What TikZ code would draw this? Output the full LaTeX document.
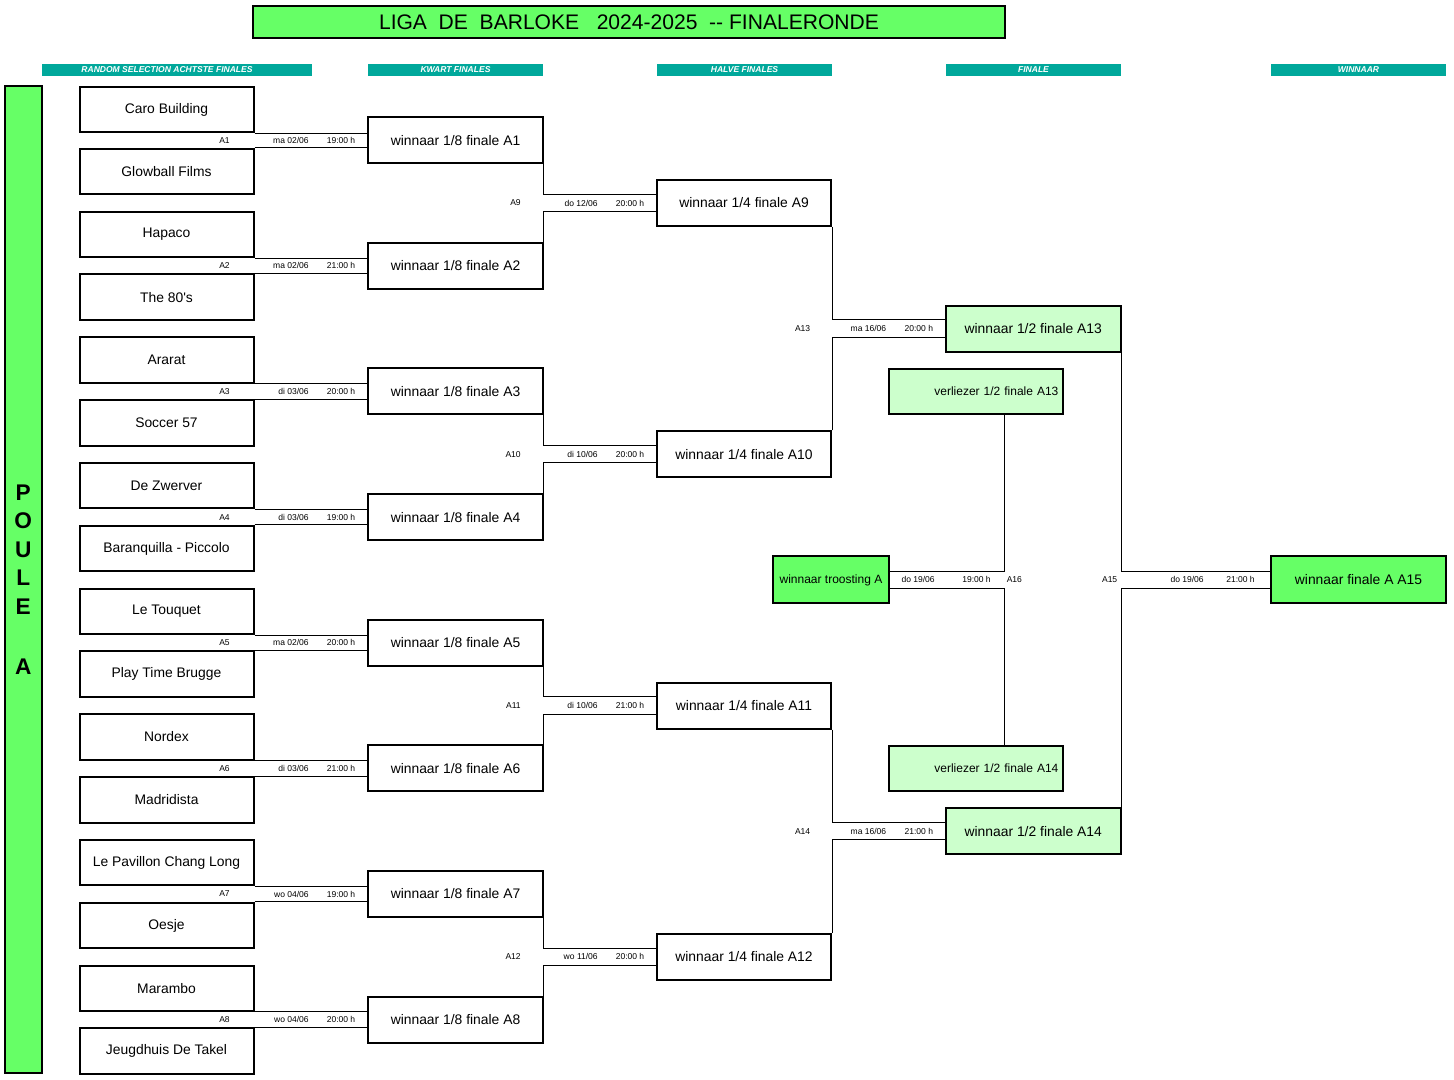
\documentclass[tikz,border=0pt]{standalone}
\usepackage{fontspec}
\setmainfont{Liberation Sans}
\usetikzlibrary{positioning, calc}
\definecolor{poulegreen}{RGB}{102,255,102}
\definecolor{palegreen}{RGB}{204,255,204}
\definecolor{headerteal}{RGB}{0,168,155}

\begin{document}
\begin{tikzpicture}[
        x=0.75pt, y=-0.75pt,
        teambox/.style={rectangle, draw, line width=1.5pt, minimum width=130.5pt, minimum height=34.1pt, inner sep=0pt, align=center, font=\fontsize{10.4}{12}\selectfont},
        winbox/.style={teambox, minimum width=131pt, minimum height=34.5pt},
        semibox/.style={winbox, fill=palegreen},
        loserbox/.style={teambox, fill=palegreen, text width=124pt, inner xsep=3pt, align=right, font=\fontsize{9}{11}\selectfont},
        troostbox/.style={teambox, fill=poulegreen, minimum width=87pt, minimum height=35.25pt, font=\fontsize{9}{11}\selectfont},
        finalbox/.style={winbox, fill=poulegreen, minimum height=35.25pt},
        titlebox/.style={rectangle, draw, line width=1.5pt, fill=poulegreen, minimum width=564pt, minimum height=24pt, inner sep=0pt, font=\fontsize{15.8}{18}\selectfont},
        poulebar/.style={rectangle, draw, line width=1.5pt, fill=poulegreen, minimum width=28.1pt, minimum height=740.25pt, inner sep=0pt, align=center, font=\fontsize{17}{21.4}\bfseries},
        headbar/.style={rectangle, fill=headerteal, minimum height=8.8pt, inner sep=0pt, text=white, font=\fontsize{6.4}{7}\bfseries\itshape},
        lbl/.style={inner sep=0pt, font=\fontsize{6.4}{7}\selectfont},
        link/.style={line width=0.75pt}
    ]
        \useasboundingbox (0,0) rectangle (1454,1079);

        \node[titlebox] (title) at (629,22) {LIGA\ \ DE\ \ BARLOKE\ \ \ 2024-2025\ \ -{}- FINALERONDE};

        \node[headbar, minimum width=202.5pt] (hdrachtste) at (177,69.8) {\hspace*{-15pt}RANDOM SELECTION ACHTSTE FINALES};
        \node[headbar, minimum width=131.25pt] (hdrkwart) at (455.5,69.8) {KWART FINALES};
        \node[headbar, minimum width=131.25pt] (hdrhalve) at (744.5,69.8) {HALVE FINALES};
        \node[headbar, minimum width=131.25pt] (hdrfinale) at (1033.5,69.8) {FINALE};
        \node[headbar, minimum width=131.25pt] (hdrwinnaar) at (1358.5,69.8) {WINNAAR};

        \node[poulebar] (poule) at (23.25,579.5) {P\\O\\U\\L\\E\\[23.6pt]A};

        \node[teambox] (caro) at (166.5,109.5) {Caro Building};
        \node[teambox] (glowball) at (166.5,171.57) {Glowball Films};
        \node[teambox] (hapaco) at (166.5,234.39) {Hapaco};
        \node[teambox] (eighties) at (166.5,297.21) {The 80\textquotesingle s};
        \node[teambox] (ararat) at (166.5,360.03) {Ararat};
        \node[teambox] (soccer) at (166.5,422.85) {Soccer 57};
        \node[teambox] (zwerver) at (166.5,485.67) {De Zwerver};
        \node[teambox] (baranquilla) at (166.5,548.49) {Baranquilla - Piccolo};
        \node[teambox] (touquet) at (166.5,611.31) {Le Touquet};
        \node[teambox] (playtime) at (166.5,674.13) {Play Time Brugge};
        \node[teambox] (nordex) at (166.5,736.95) {Nordex};
        \node[teambox] (madridista) at (166.5,799.77) {Madridista};
        \node[teambox] (pavillon) at (166.5,862.59) {Le Pavillon Chang Long};
        \node[teambox] (oesje) at (166.5,925.41) {Oesje};
        \node[teambox] (marambo) at (166.5,988.23) {Marambo};
        \node[teambox] (jeugdhuis) at (166.5,1051.05) {Jeugdhuis De Takel};

        \node[winbox] (wa1) at (455.5,140.16) {winnaar 1/8 finale A1};
        \node[winbox] (wa2) at (455.5,265.8) {winnaar 1/8 finale A2};
        \node[winbox] (wa3) at (455.5,391.44) {winnaar 1/8 finale A3};
        \node[winbox] (wa4) at (455.5,517.08) {winnaar 1/8 finale A4};
        \node[winbox] (wa5) at (455.5,642.72) {winnaar 1/8 finale A5};
        \node[winbox] (wa6) at (455.5,768.36) {winnaar 1/8 finale A6};
        \node[winbox] (wa7) at (455.5,894.0) {winnaar 1/8 finale A7};
        \node[winbox] (wa8) at (455.5,1019.64) {winnaar 1/8 finale A8};

        \node[winbox] (wa9) at (744,202.98) {winnaar 1/4 finale A9};
        \node[winbox] (wa10) at (744,454.26) {winnaar 1/4 finale A10};
        \node[winbox] (wa11) at (744,705.54) {winnaar 1/4 finale A11};
        \node[winbox] (wa12) at (744,956.82) {winnaar 1/4 finale A12};

        \node[semibox] (wa13) at (1033.25,328.62) {winnaar 1/2 finale A13};
        \node[semibox] (wa14) at (1033.25,831.18) {winnaar 1/2 finale A14};
        \node[loserbox] (la13) at (975.75,391.44) {verliezer 1/2 finale A13};
        \node[loserbox] (la14) at (975.75,768.36) {verliezer 1/2 finale A14};

        \node[troostbox] (wa16) at (831,579.9) {winnaar troosting A};
        \node[finalbox] (wa15) at (1358.5,579.9) {winnaar finale A A15};

        \draw[link] (caro.south east) -- (caro.south east -| wa1.west);
        \draw[link] (glowball.north east) -- (glowball.north east -| wa1.west);
        \draw[link] (hapaco.south east) -- (hapaco.south east -| wa2.west);
        \draw[link] (eighties.north east) -- (eighties.north east -| wa2.west);
        \draw[link] (ararat.south east) -- (ararat.south east -| wa3.west);
        \draw[link] (soccer.north east) -- (soccer.north east -| wa3.west);
        \draw[link] (zwerver.south east) -- (zwerver.south east -| wa4.west);
        \draw[link] (baranquilla.north east) -- (baranquilla.north east -| wa4.west);
        \draw[link] (touquet.south east) -- (touquet.south east -| wa5.west);
        \draw[link] (playtime.north east) -- (playtime.north east -| wa5.west);
        \draw[link] (nordex.south east) -- (nordex.south east -| wa6.west);
        \draw[link] (madridista.north east) -- (madridista.north east -| wa6.west);
        \draw[link] (pavillon.south east) -- (pavillon.south east -| wa7.west);
        \draw[link] (oesje.north east) -- (oesje.north east -| wa7.west);
        \draw[link] (marambo.south east) -- (marambo.south east -| wa8.west);
        \draw[link] (jeugdhuis.north east) -- (jeugdhuis.north east -| wa8.west);

        \draw[link] (wa1.south east) |- ([yshift=6.5pt]wa9.west);
        \draw[link] (wa2.north east) |- ([yshift=-6.5pt]wa9.west);
        \draw[link] (wa3.south east) |- ([yshift=6.5pt]wa10.west);
        \draw[link] (wa4.north east) |- ([yshift=-6.5pt]wa10.west);
        \draw[link] (wa5.south east) |- ([yshift=6.5pt]wa11.west);
        \draw[link] (wa6.north east) |- ([yshift=-6.5pt]wa11.west);
        \draw[link] (wa7.south east) |- ([yshift=6.5pt]wa12.west);
        \draw[link] (wa8.north east) |- ([yshift=-6.5pt]wa12.west);

        \draw[link] (wa9.south east) |- ([yshift=6.5pt]wa13.west);
        \draw[link] (wa10.north east) |- ([yshift=-6.5pt]wa13.west);
        \draw[link] (wa11.south east) |- ([yshift=6.5pt]wa14.west);
        \draw[link] (wa12.north east) |- ([yshift=-6.5pt]wa14.west);

        \draw[link] ([xshift=21.4pt]la13.south) |- ([yshift=6.5pt]wa16.east);
        \draw[link] ([xshift=21.4pt]la14.north) |- ([yshift=-6.5pt]wa16.east);
        \draw[link] (wa13.south east) |- ([yshift=6.5pt]wa15.west);
        \draw[link] (wa14.north east) |- ([yshift=-6.5pt]wa15.west);

        \node[lbl, anchor=east] (ida1) at (230,140.16) {A1};
        \node[lbl, anchor=east] (datea1) at (309,140.16) {ma 02/06};
        \node[lbl, anchor=east] (timea1) at (355.5,140.16) {19:00 h};
        \node[lbl, anchor=east] (ida2) at (230,265.8) {A2};
        \node[lbl, anchor=east] (datea2) at (309,265.8) {ma 02/06};
        \node[lbl, anchor=east] (timea2) at (355.5,265.8) {21:00 h};
        \node[lbl, anchor=east] (ida3) at (230,391.44) {A3};
        \node[lbl, anchor=east] (datea3) at (309,391.44) {di 03/06};
        \node[lbl, anchor=east] (timea3) at (355.5,391.44) {20:00 h};
        \node[lbl, anchor=east] (ida4) at (230,517.08) {A4};
        \node[lbl, anchor=east] (datea4) at (309,517.08) {di 03/06};
        \node[lbl, anchor=east] (timea4) at (355.5,517.08) {19:00 h};
        \node[lbl, anchor=east] (ida5) at (230,642.72) {A5};
        \node[lbl, anchor=east] (datea5) at (309,642.72) {ma 02/06};
        \node[lbl, anchor=east] (timea5) at (355.5,642.72) {20:00 h};
        \node[lbl, anchor=east] (ida6) at (230,768.36) {A6};
        \node[lbl, anchor=east] (datea6) at (309,768.36) {di 03/06};
        \node[lbl, anchor=east] (timea6) at (355.5,768.36) {21:00 h};
        \node[lbl, anchor=east] (ida7) at (230,894.0) {A7};
        \node[lbl, anchor=east] (datea7) at (309,894.0) {wo 04/06};
        \node[lbl, anchor=east] (timea7) at (355.5,894.0) {19:00 h};
        \node[lbl, anchor=east] (ida8) at (230,1019.64) {A8};
        \node[lbl, anchor=east] (datea8) at (309,1019.64) {wo 04/06};
        \node[lbl, anchor=east] (timea8) at (355.5,1019.64) {20:00 h};

        \node[lbl, anchor=east] (ida9) at (521,202.98) {A9};
        \node[lbl, anchor=east] (datea9) at (598,202.98) {do 12/06};
        \node[lbl, anchor=east] (timea9) at (644.5,202.98) {20:00 h};
        \node[lbl, anchor=east] (ida10) at (521,454.26) {A10};
        \node[lbl, anchor=east] (datea10) at (598,454.26) {di 10/06};
        \node[lbl, anchor=east] (timea10) at (644.5,454.26) {20:00 h};
        \node[lbl, anchor=east] (ida11) at (521,705.54) {A11};
        \node[lbl, anchor=east] (datea11) at (598,705.54) {di 10/06};
        \node[lbl, anchor=east] (timea11) at (644.5,705.54) {21:00 h};
        \node[lbl, anchor=east] (ida12) at (521,956.82) {A12};
        \node[lbl, anchor=east] (datea12) at (598,956.82) {wo 11/06};
        \node[lbl, anchor=east] (timea12) at (644.5,956.82) {20:00 h};

        \node[lbl, anchor=east] (ida13) at (810.5,328.62) {A13};
        \node[lbl, anchor=east] (datea13) at (886.5,328.62) {ma 16/06};
        \node[lbl, anchor=east] (timea13) at (933.3,328.62) {20:00 h};
        \node[lbl, anchor=east] (ida14) at (810.5,831.18) {A14};
        \node[lbl, anchor=east] (datea14) at (886.5,831.18) {ma 16/06};
        \node[lbl, anchor=east] (timea14) at (933.3,831.18) {21:00 h};

        \node[lbl, anchor=east] (datea16) at (935,579.9) {do 19/06};
        \node[lbl, anchor=east] (timea16) at (991,579.9) {19:00 h};
        \node[lbl, anchor=west] (ida16) at (1006.5,579.9) {A16};
        \node[lbl, anchor=east] (ida15) at (1117.5,579.9) {A15};
        \node[lbl, anchor=east] (datea15) at (1204,579.9) {do 19/06};
        \node[lbl, anchor=east] (timea15) at (1255,579.9) {21:00 h};
    \end{tikzpicture}
\end{document}
